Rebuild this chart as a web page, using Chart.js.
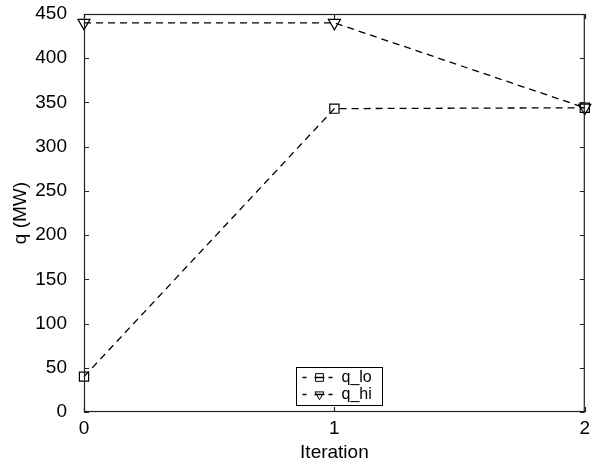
<!DOCTYPE html>
<html>
<head>
<meta charset="utf-8">
<script src="https://cdn.jsdelivr.net/npm/chart.js@4"></script>
<style>
html,body{margin:0;padding:0;background:#fff}
#wrap{width:593px;height:461px}
</style>
</head>
<body>
<div id="wrap"><canvas id="grafico" width="593" height="461"></canvas></div>
<script>
// datos
const iteraciones=[0,1,2]
const qLo=[40,343,344]
const qHi=[440,440,344]
const ticksY=[0,50,100,150,200,250,300,350,400,450]
const ticksX=[0,1,2]

const fuente="'Liberation Sans', Arial, Helvetica, sans-serif"

function puntos(vals){
return iteraciones.map((x,i)=>({x:x,y:vals[i]}))
}

// caja + ticks hacia adentro (estilo matlab) + leyenda abajo al centro
const cajaPlugin={
id:"caja",
afterDatasetsDraw(chart){
const ctx=chart.ctx
const a=chart.chartArea
const sx=chart.scales.x
const sy=chart.scales.y
ctx.save()
ctx.strokeStyle="#222"
ctx.lineWidth=1.2
ctx.setLineDash([])
ctx.strokeRect(a.left+0.5,a.top+0.5,a.right-a.left-1,a.bottom-a.top-1)
ctx.beginPath()
ticksY.forEach(v=>{
let y=Math.round(sy.getPixelForValue(v))+0.5
ctx.moveTo(a.left,y);ctx.lineTo(a.left+5,y)
ctx.moveTo(a.right,y);ctx.lineTo(a.right-5,y)
})
ticksX.forEach(v=>{
let x=Math.round(sx.getPixelForValue(v))+0.5
ctx.moveTo(x,a.bottom);ctx.lineTo(x,a.bottom-5)
ctx.moveTo(x,a.top);ctx.lineTo(x,a.top+5)
})
ctx.stroke()

// leyenda
const w=86,h=38
const lx=Math.round((a.left+a.right)/2-38)+0.5
const ly=Math.round(a.bottom-7-h)+0.5
ctx.fillStyle="#fff"
ctx.fillRect(lx,ly,w,h)
ctx.strokeStyle="#000"
ctx.lineWidth=1
ctx.strokeRect(lx,ly,w,h)
chart.data.datasets.forEach((ds,i)=>{
let yy=Math.round(ly+9+i*17)+0.5
ctx.save()
ctx.lineWidth=1.3
ctx.beginPath()
ctx.moveTo(lx+6,yy);ctx.lineTo(lx+10,yy)
ctx.moveTo(lx+18,yy);ctx.lineTo(lx+28,yy)
ctx.moveTo(lx+32,yy);ctx.lineTo(lx+36,yy)
ctx.stroke()
ctx.restore()
ctx.fillStyle="rgba(0,0,0,0)"
ctx.strokeStyle="#000"
Chart.helpers.drawPoint(ctx,{pointStyle:ds.pointStyle,radius:i==0?5.5:5.2,rotation:ds.pointRotation||0,borderWidth:1.3},lx+23,yy)
ctx.fillStyle="#000"
ctx.font="16px "+fuente
ctx.textBaseline="middle"
ctx.fillText(ds.label,lx+45,yy)
})
ctx.restore()
}
}

new Chart(document.getElementById("grafico"),{
type:"line",
data:{
datasets:[
{label:"q_lo",data:puntos(qLo),borderColor:"#000",borderWidth:1.3,borderDash:[7,5],
pointStyle:"rect",pointRadius:6.5,pointBorderColor:"#000",pointBackgroundColor:"rgba(0,0,0,0)",pointBorderWidth:1.2,fill:false,tension:0},
{label:"q_hi",data:puntos(qHi),borderColor:"#000",borderWidth:1.3,borderDash:[7,5],
pointStyle:"triangle",pointRotation:180,pointRadius:7,pointBorderColor:"#000",pointBackgroundColor:"rgba(0,0,0,0)",pointBorderWidth:1.2,fill:false,tension:0}
]
},
options:{
responsive:false,
animation:false,
clip:false,
layout:{padding:{top:14,right:5,left:0,bottom:0}},
plugins:{legend:{display:false},tooltip:{enabled:false}},
scales:{
x:{
type:"linear",min:0,max:2,
afterBuildTicks(s){s.ticks=ticksX.map(v=>({value:v}))},
afterFit(s){s.height=49;s.paddingLeft=0;s.paddingRight=0},
grid:{display:false},
border:{display:false},
ticks:{color:"#000",font:{family:fuente,size:19},padding:-3,maxRotation:0},
title:{display:true,text:"Iteration",color:"#000",font:{family:fuente,size:19},padding:{top:0,bottom:-3}}
},
y:{
min:0,max:450,
afterBuildTicks(s){s.ticks=ticksY.map(v=>({value:v}))},
afterFit(s){s.width=84;s.paddingTop=0;s.paddingBottom=0},
grid:{display:false},
border:{display:false},
ticks:{color:"#000",font:{family:fuente,size:19},padding:9},
title:{display:true,text:"q (MW)",color:"#000",font:{family:fuente,size:19},padding:{top:9,bottom:0}}
}
}
},
plugins:[cajaPlugin]
})
</script>
</body>
</html>
